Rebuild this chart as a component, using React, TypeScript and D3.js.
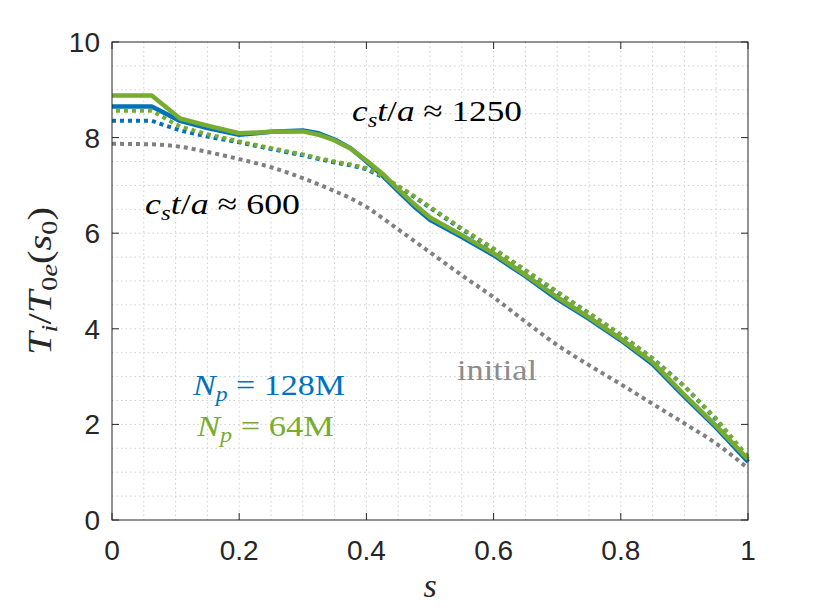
import React from "react";
import * as d3 from "d3";

const sValues = [0, 0.0625, 0.107, 0.15, 0.2, 0.25, 0.3, 0.325, 0.35, 0.375, 0.4, 0.425, 0.45, 0.475, 0.5, 0.55, 0.6, 0.65, 0.7, 0.75, 0.8, 0.85, 0.9, 0.95, 1.0];

const green1250 = [8.88, 8.88, 8.4, 8.25, 8.09, 8.12, 8.13, 8.06, 7.94, 7.77, 7.52, 7.25, 6.92, 6.61, 6.33, 5.96, 5.58, 5.13, 4.66, 4.24, 3.79, 3.3, 2.62, 1.97, 1.27];
const blue1250 = [8.65, 8.65, 8.35, 8.2, 8.06, 8.12, 8.15, 8.09, 7.96, 7.78, 7.5, 7.21, 6.88, 6.56, 6.28, 5.92, 5.54, 5.1, 4.62, 4.21, 3.76, 3.26, 2.58, 1.93, 1.22];
const green600 = [8.56, 8.56, 8.23, 8.07, 7.92, 7.78, 7.65, 7.57, 7.5, 7.44, 7.36, 7.2, 6.99, 6.78, 6.55, 6.1, 5.68, 5.23, 4.78, 4.33, 3.88, 3.38, 2.8, 2.12, 1.32];
const blue600 = [8.35, 8.35, 8.15, 8.02, 7.9, 7.76, 7.63, 7.55, 7.48, 7.42, 7.34, 7.18, 6.97, 6.76, 6.53, 6.08, 5.66, 5.21, 4.76, 4.32, 3.87, 3.38, 2.8, 2.1, 1.22];
const initial = [7.87, 7.86, 7.81, 7.7, 7.55, 7.38, 7.15, 7.02, 6.88, 6.73, 6.55, 6.32, 6.08, 5.84, 5.6, 5.12, 4.66, 4.15, 3.66, 3.24, 2.84, 2.43, 2.02, 1.6, 1.08];

const xTicks = [0, 0.2, 0.4, 0.6, 0.8, 1];
const xTickLabels = ["0", "0.2", "0.4", "0.6", "0.8", "1"];
const yTicks = [0, 2, 4, 6, 8, 10];
const yTickLabels = ["0", "2", "4", "6", "8", "10"];
const xMinor = d3.range(0.05, 0.999, 0.05);
const yMinor = d3.range(0.5, 9.99, 0.5);

const BLUE = "#0072BD";
const GREEN = "#77AC30";
const GRAY = "#808080";
const AX = "#262626";

const W = 830;
const H = 610;
const L = 112, R = 748, T = 42, B = 520;

export default function App() {
  const x = d3.scaleLinear().domain([0, 1]).range([L, R]);
  const y = d3.scaleLinear().domain([0, 10]).range([B, T]);
  const lin = d3.line<number>().x((_, i) => x(sValues[i])).y((d) => y(d)).curve(d3.curveLinear);
  const smooth = d3.line<number>().x((_, i) => x(sValues[i])).y((d) => y(d)).curve(d3.curveMonotoneX);

  const serif = "'Liberation Serif', 'Times New Roman', serif";
  const sans = "'Liberation Sans', Arial, Helvetica, sans-serif";

  return (
    <div style={{ position: "absolute", left: 0, top: 0, width: W, height: H, overflow: "hidden" }}>
      <svg width={W} height={H} viewBox={`0 0 ${W} ${H}`} style={{ display: "block", background: "#fff" }}>
        <rect x={0} y={0} width={W} height={H} fill="#fff" />
        {/* grid */}
        <g stroke="#cfcfcf" strokeWidth={1} strokeDasharray="1.5 3">
          {xMinor.map((v, i) => (
            <line key={"gx" + i} x1={x(v)} x2={x(v)} y1={T} y2={B} />
          ))}
          {yMinor.map((v, i) => (
            <line key={"gy" + i} x1={L} x2={R} y1={y(v)} y2={y(v)} />
          ))}
        </g>
        {/* curves */}
        <path d={smooth(initial) || ""} fill="none" stroke={GRAY} strokeWidth={4} strokeDasharray="4 4" />
        <path d={lin(blue1250) || ""} fill="none" stroke={BLUE} strokeWidth={4.5} strokeLinejoin="round" />
        <path d={lin(blue600) || ""} fill="none" stroke={BLUE} strokeWidth={4} strokeDasharray="4 4" />
        <path d={lin(green1250) || ""} fill="none" stroke={GREEN} strokeWidth={4.5} strokeLinejoin="round" />
        <path d={lin(green600) || ""} fill="none" stroke={GREEN} strokeWidth={4} strokeDasharray="4 4" strokeDashoffset={4} />
        {/* box */}
        <rect x={L} y={T} width={R - L} height={B - T} fill="none" stroke={AX} strokeWidth={1} />
        {/* ticks */}
        <g stroke={AX} strokeWidth={1}>
          {xTicks.map((v, i) => (
            <g key={"xt" + i}>
              <line x1={x(v)} x2={x(v)} y1={B} y2={B - 7} />
              <line x1={x(v)} x2={x(v)} y1={T} y2={T + 7} />
            </g>
          ))}
          {yTicks.map((v, i) => (
            <g key={"yt" + i}>
              <line x1={L} x2={L + 7} y1={y(v)} y2={y(v)} />
              <line x1={R} x2={R - 7} y1={y(v)} y2={y(v)} />
            </g>
          ))}
        </g>
        {/* tick labels */}
        <g fill={AX} fontFamily={sans} fontSize={28}>
          {xTicks.map((v, i) => (
            <text key={"xl" + i} x={x(v)} y={560} textAnchor="middle">{xTickLabels[i]}</text>
          ))}
          {yTicks.map((v, i) => (
            <text key={"yl" + i} x={100} y={y(v) + 10} textAnchor="end">{yTickLabels[i]}</text>
          ))}
        </g>
        {/* axis labels */}
        <text x={430} y={597} textAnchor="middle" fontFamily={serif} fontStyle="italic" fontSize={34} fill={AX}>s</text>
        <text transform="translate(51,281) rotate(-90)" textAnchor="middle" fontFamily={serif} fontSize={33} fill={AX} textLength={148} lengthAdjust="spacingAndGlyphs">
          <tspan fontStyle="italic">T</tspan>
          <tspan fontStyle="italic" fontSize={23} dy={6}>i</tspan>
          <tspan dy={-6}>/</tspan>
          <tspan fontStyle="italic">T</tspan>
          <tspan fontSize={23} dy={6}>0</tspan>
          <tspan fontSize={23} fontStyle="italic">e</tspan>
          <tspan dy={-6}>(</tspan>
          <tspan fontStyle="italic">s</tspan>
          <tspan fontSize={23} dy={6}>0</tspan>
          <tspan dy={-6}>)</tspan>
        </text>
        {/* annotations */}
        <text x={352} y={121} fontFamily={serif} fontSize={30} fill="#000" textLength={170} lengthAdjust="spacingAndGlyphs">
          <tspan fontStyle="italic">c</tspan>
          <tspan fontStyle="italic" fontSize={21} dy={6}>s</tspan>
          <tspan fontStyle="italic" dy={-6}>t</tspan>
          <tspan>/</tspan>
          <tspan fontStyle="italic">a</tspan>
          <tspan> ≈ 1250</tspan>
        </text>
        <text x={145} y={214} fontFamily={serif} fontSize={30} fill="#000" textLength={155} lengthAdjust="spacingAndGlyphs">
          <tspan fontStyle="italic">c</tspan>
          <tspan fontStyle="italic" fontSize={21} dy={6}>s</tspan>
          <tspan fontStyle="italic" dy={-6}>t</tspan>
          <tspan>/</tspan>
          <tspan fontStyle="italic">a</tspan>
          <tspan> ≈ 600</tspan>
        </text>
        <text x={193} y={395} fontFamily={serif} fontSize={30} fill={BLUE} textLength={152} lengthAdjust="spacingAndGlyphs">
          <tspan fontStyle="italic">N</tspan>
          <tspan fontStyle="italic" fontSize={21} dy={6}>p</tspan>
          <tspan dy={-6}> = 128M</tspan>
        </text>
        <text x={197} y={436} fontFamily={serif} fontSize={30} fill={GREEN} textLength={137} lengthAdjust="spacingAndGlyphs">
          <tspan fontStyle="italic">N</tspan>
          <tspan fontStyle="italic" fontSize={21} dy={6}>p</tspan>
          <tspan dy={-6}> = 64M</tspan>
        </text>
        <text x={457} y={380} fontFamily={serif} fontSize={30} fill="#8c8c8c" textLength={80} lengthAdjust="spacingAndGlyphs">initial</text>
      </svg>
    </div>
  );
}
